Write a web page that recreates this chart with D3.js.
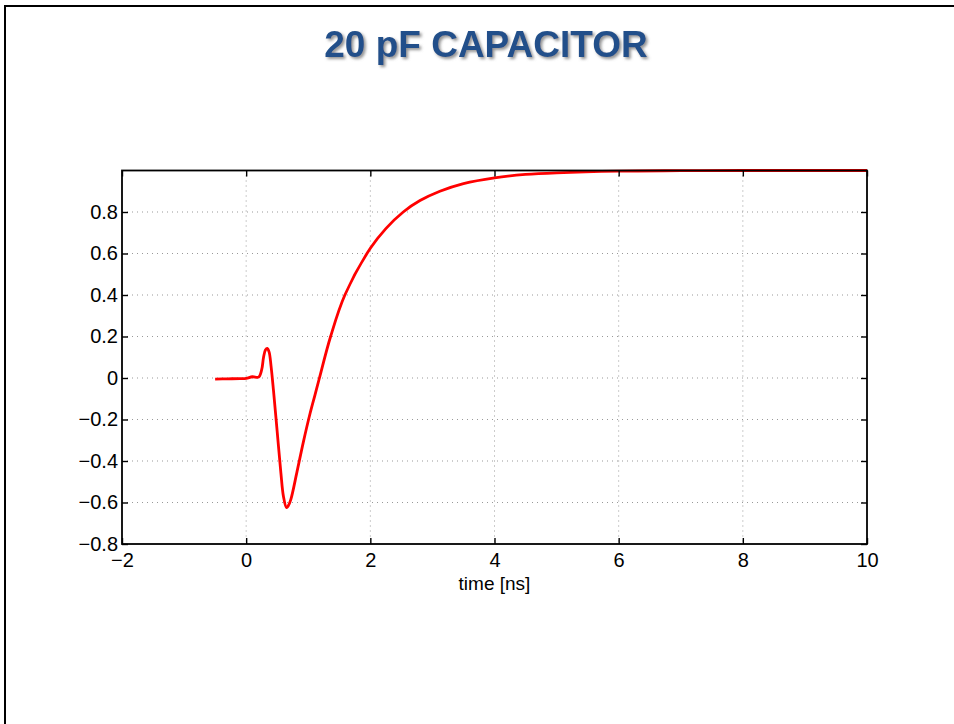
<!DOCTYPE html>
<html>
<head>
<meta charset="utf-8">
<script src="https://cdn.jsdelivr.net/npm/d3@7"></script>
<style>
  body { margin: 0; background: #fff; }
  svg { display: block; font-family: "Liberation Sans", Arial, Helvetica, sans-serif; }
  .tick text { font-size: 20px; fill: #000; }
  .tick line { stroke: #000; stroke-width: 1.4; }
  .domain { display: none; }
</style>
</head>
<body>
<script>
const w = 954;
const h = 724;
const plot = { left: 122, right: 867, top: 170.5, bottom: 544 };

// time in ns and normalised signal
const timeNs = [
  -0.5, -0.3, -0.1, 0, 0.1, 0.2, 0.25, 0.28, 0.31, 0.34, 0.37, 0.4, 0.44,
  0.5, 0.56, 0.6, 0.65, 0.68, 0.72, 0.82, 0.92, 1.03, 1.11, 1.18,
  1.36, 1.59, 2.0, 2.25, 2.53, 2.8, 3.12, 3.5, 4.0, 4.5, 5, 6, 7, 8, 10
];
const signal = [
  -0.005, -0.004, -0.003, -0.002, 0.006, 0.004, 0.04, 0.1, 0.135, 0.143, 0.125, 0.06, -0.06,
  -0.26, -0.46, -0.57, -0.625, -0.615, -0.585, -0.45, -0.31, -0.17, -0.08, 0.0,
  0.2, 0.4, 0.625, 0.72, 0.8, 0.855, 0.9, 0.937, 0.965, 0.981, 0.989, 0.997, 0.999, 1.0, 1.0
];
const xTicks = [-2, 0, 2, 4, 6, 8, 10];
const yTicks = [-0.8, -0.6, -0.4, -0.2, 0, 0.2, 0.4, 0.6, 0.8];

const createSvg = () => {
  return d3.select("body").append("svg").attr("width", w).attr("height", h);
};

const createScales = () => {
  const xScale = d3.scaleLinear().domain([-2, 10]).range([plot.left, plot.right]);
  const yScale = d3.scaleLinear().domain([-0.8, 1]).range([plot.bottom, plot.top]);
  return { xScale, yScale };
};

const createSlide = (svg) => {
  // slide border (top and left edges visible)
  svg.append("line").attr("x1", 4).attr("x2", w).attr("y1", 6).attr("y2", 6)
    .attr("stroke", "#000").attr("stroke-width", 2);
  svg.append("line").attr("x1", 5).attr("x2", 5).attr("y1", 5).attr("y2", h)
    .attr("stroke", "#000").attr("stroke-width", 2);

  const defs = svg.append("defs");
  defs.append("filter").attr("id", "shadow")
    .attr("x", "-10%").attr("y", "-30%").attr("width", "120%").attr("height", "160%")
    .append("feDropShadow")
    .attr("dx", 2).attr("dy", 2).attr("stdDeviation", 1.5)
    .attr("flood-color", "#777").attr("flood-opacity", 0.8);

  svg.append("text")
    .text("20 pF CAPACITOR")
    .attr("x", 486)
    .attr("y", 57)
    .attr("text-anchor", "middle")
    .attr("font-size", 37)
    .attr("font-weight", "bold")
    .attr("fill", "#21508a")
    .attr("filter", "url(#shadow)");
};

const createGrid = (svg, xScale, yScale) => {
  const grid = svg.append("g").attr("class", "grid")
    .attr("stroke", "#999").attr("stroke-width", 1).attr("stroke-dasharray", "1,4");
  grid.selectAll("line.v")
    .data(xTicks.filter((d) => d > -2 && d < 10))
    .enter().append("line").attr("class", "v")
    .attr("x1", (d) => xScale(d)).attr("x2", (d) => xScale(d))
    .attr("y1", plot.top).attr("y2", plot.bottom);
  grid.selectAll("line.h")
    .data(yTicks.filter((d) => d > -0.8))
    .enter().append("line").attr("class", "h")
    .attr("x1", plot.left).attr("x2", plot.right)
    .attr("y1", (d) => yScale(d)).attr("y2", (d) => yScale(d));
};

const createAxis = (svg, xScale, yScale) => {
  const fmtY = (d) => (d === 0 ? "0" : d3.format(".1f")(d));
  svg.append("g")
    .attr("id", "x-axis")
    .attr("transform", `translate(0, ${plot.bottom})`)
    .call(d3.axisBottom(xScale).tickValues(xTicks).tickSize(-6).tickPadding(9).tickFormat(d3.format("d")));
  svg.append("g")
    .attr("id", "y-axis")
    .attr("transform", `translate(${plot.left}, 0)`)
    .call(d3.axisLeft(yScale).tickValues(yTicks).tickSize(-6).tickPadding(4).tickFormat(fmtY));
  svg.append("g")
    .attr("transform", `translate(0, ${plot.top})`)
    .call(d3.axisTop(xScale).tickValues(xTicks).tickSize(-6).tickFormat(""));
  svg.append("g")
    .attr("transform", `translate(${plot.right}, 0)`)
    .call(d3.axisRight(yScale).tickValues(yTicks).tickSize(-6).tickFormat(""));

  // frame
  svg.append("rect")
    .attr("x", plot.left).attr("y", plot.top)
    .attr("width", plot.right - plot.left).attr("height", plot.bottom - plot.top)
    .attr("fill", "none").attr("stroke", "#000").attr("stroke-width", 1.8);

  //label
  svg.append("text")
    .text("time [ns]")
    .attr("x", xScale(4))
    .attr("y", 590)
    .attr("text-anchor", "middle")
    .attr("font-size", 19);
};

const createLine = (svg, xScale, yScale) => {
  const points = timeNs.map((t, i) => [t, signal[i]]);
  const line = d3.line()
    .x((d) => xScale(d[0]))
    .y((d) => yScale(d[1]))
    .curve(d3.curveCatmullRom.alpha(0.5));
  svg.append("path")
    .datum(points)
    .attr("d", line)
    .attr("fill", "none")
    .attr("stroke", "#ff0000")
    .attr("stroke-width", 2.8)
    .attr("stroke-linejoin", "round");
};

const init = () => {
  const { xScale, yScale } = createScales();
  const svg = createSvg();
  createSlide(svg);
  createGrid(svg, xScale, yScale);
  createLine(svg, xScale, yScale);
  createAxis(svg, xScale, yScale);
};
init();
</script>
</body>
</html>
